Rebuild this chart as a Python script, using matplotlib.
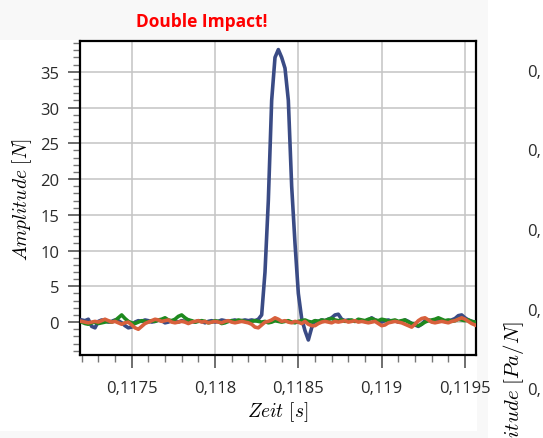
import numpy as np
import matplotlib
matplotlib.use("Agg")
import matplotlib.pyplot as plt
from matplotlib.patches import Rectangle
from matplotlib.ticker import FixedLocator, MultipleLocator

# --- Data ---
T0 = 0.11720      # first sample [s]
DT = 2e-5         # sample spacing [s]

blue = [
    0.3, 0.2, 0.4, -0.6, -0.8, 0.1, 0.3, 0.2, 0.0, 0.1,
    0.3, 0.2, -0.1, -0.5, -0.8, -0.7, 0.0, 0.2, 0.1, 0.3,
    0.2, 0.0, 0.1, 0.3, 0.2, -0.1, 0.0, 0.2, 0.1, 0.0,
    0.2, 0.1, 0.3, 0.1, 0.0, 0.2, 0.1, -0.1, 0.1, 0.2,
    0.0, 0.1, 0.3, 0.2, 0.1, 0.2, 0.3, 0.1, 0.2, 0.3,
    0.2, 0.3, 0.2, 0.4, 1.0, 7.0, 17.0, 31.0, 37.0, 38.1,
    37.0, 35.5, 31.0, 19.0, 11.0, 4.0, 0.5, -1.2, -2.5, -0.8,
    0.2, 0.1, 0.3, 0.2, 0.4, 0.6, 1.0, 1.1, 0.4, 0.2,
    0.3, 0.2, 0.1, 0.3, 0.2, 0.1, 0.3, 0.6, 0.3, 0.1,
    0.0, 0.2, 0.3, 0.1, 0.2, 0.0, 0.1, 0.3, 0.1, -0.2,
    -0.4, -0.6, -0.3, 0.2, 0.3, 0.1, 0.2, 0.4, 0.2, 0.1,
    0.2, 0.3, 0.5, 0.9, 1.0, 0.6, 0.3, 0.1, 0.0,
]
green = [
    0.0, -0.2, -0.3, -0.1, 0.0, -0.2, -0.1, 0.0, 0.1, 0.0,
    0.2, 0.6, 1.0, 0.5, 0.1, -0.1, -0.2, 0.0, 0.2, 0.1,
    0.0, 0.2, 0.1, 0.3, 0.4, 0.6, 0.3, 0.2, 0.4, 0.8,
    1.0, 0.6, 0.3, 0.2, 0.0, 0.1, 0.2, 0.1, -0.1, 0.0,
    0.2, 0.1, -0.2, -0.1, 0.1, 0.2, 0.1, 0.3, 0.2, 0.1,
    0.0, 0.1, 0.2, 0.1, 0.0, 0.1, -0.1, 0.0, 0.2, 0.1,
    0.0, 0.1, 0.2, 0.0, -0.1, 0.1, 0.2, 0.3, 0.1, 0.0,
    0.2, 0.1, 0.3, 0.2, 0.4, 0.5, 0.3, 0.2, 0.3, 0.1,
    0.2, 0.3, 0.1, 0.4, 0.3, 0.2, 0.4, 0.5, 0.3, 0.2,
    0.4, 0.3, 0.1, 0.2, 0.3, 0.1, 0.2, 0.3, 0.0, -0.2,
    -0.3, -0.5, -0.3, 0.0, 0.2, 0.3, 0.4, 0.6, 0.4, 0.2,
    0.3, 0.1, 0.2, 0.4, 0.3, 0.2, 0.3, 0.1, 0.0,
]
orange = [
    0.1, 0.0, -0.1, 0.0, 0.1, 0.0, 0.2, 0.4, 0.2, 0.0,
    0.1, -0.1, -0.3, -0.1, 0.0, -0.4, -0.8, -1.0, -0.6, -0.2,
    0.0, 0.2, 0.4, 0.3, 0.1, 0.2, 0.3, 0.0, -0.1, 0.0,
    0.1, 0.0, -0.2, 0.0, 0.1, 0.2, 0.0, 0.1, -0.1, 0.0,
    0.1, 0.0, -0.1, 0.1, 0.2, 0.0, -0.1, 0.0, 0.1, 0.0,
    -0.1, -0.3, -0.7, -0.8, -0.4, 0.0, 0.1, 0.3, 0.6, 0.4,
    0.1, 0.2, 0.0, -0.1, 0.1, 0.0, -0.2, 0.1, -0.3, -0.5,
    -0.5, -0.2, 0.0, 0.1, 0.0, -0.1, 0.1, 0.0, 0.1, 0.2,
    0.0, 0.1, 0.2, 0.0, 0.1, 0.0, -0.1, 0.0, 0.1, -0.2,
    -0.5, -0.4, -0.1, 0.0, 0.1, 0.0, -0.1, -0.3, -0.5, -0.7,
    -0.3, 0.2, 0.5, 0.6, 0.3, 0.0, -0.1, 0.0, 0.1, 0.0,
    -0.1, 0.1, 0.2, 0.4, 0.6, 0.4, 0.1, -0.2, -0.4,
]

x_ticks = [0.1175, 0.118, 0.1185, 0.119, 0.1195]
x_labels = ["0,1175", "0,118", "0,1185", "0,119", "0,1195"]
y_ticks = [0, 5, 10, 15, 20, 25, 30, 35]
right_labels = ["0,", "0,", "0,", "0,", "0,"]   # neighbour panel, cut by the frame

W, H = 543, 439
plt.rcParams['mathtext.fontset'] = 'cm'
plt.rcParams['font.family'] = ['Open Sans', 'DejaVu Sans']

fig = plt.figure(figsize=(W / 100, H / 100), dpi=100, facecolor='white')

# panel backgrounds (pixel boxes -> figure fractions)
def px_rect(x0, y0, x1, y1, color):
    r = Rectangle((x0 / W, 1 - y1 / H), (x1 - x0) / W, (y1 - y0) / H,
                  transform=fig.transFigure, facecolor=color, edgecolor='none', zorder=-2)
    fig.add_artist(r)

px_rect(0, 0, 488, H, '#f8f8f8')
px_rect(0, 41, 477, 432, 'white')

ax = fig.add_axes([80 / W, 1 - 356 / H, 396 / W, 314 / H])
t = T0 + DT * np.arange(len(blue))

ax.plot(t, blue, color='#3a4b85', lw=2.6, zorder=3)
ax.plot(t, green, color='#1e8a1e', lw=2.6, zorder=4)
ax.plot(t, orange, color='#d8603c', lw=2.6, zorder=5)

ax.set_xlim(0.11719, 0.119566)
ax.set_ylim(-4.6, 39.3)

ax.xaxis.set_major_locator(FixedLocator(x_ticks))
ax.set_xticklabels(x_labels)
ax.xaxis.set_minor_locator(MultipleLocator(0.0001))
ax.yaxis.set_major_locator(FixedLocator(y_ticks))
ax.yaxis.set_minor_locator(MultipleLocator(1))

ax.tick_params(which='major', length=9, width=1.2, color='#555555',
               labelsize=12, labelcolor='#2a2a2a', pad=6)
ax.tick_params(which='minor', length=5, width=1.0, color='#777777')
ax.tick_params(axis='x', which='major', pad=9)
ax.grid(True, which='major', color='#c4c4c4', lw=1.1)
ax.set_axisbelow(True)
for s in ax.spines.values():
    s.set_linewidth(1.6)
    s.set_color('black')

ax.set_xlabel(r'$Zeit\ [s]$', fontsize=14, labelpad=2)
ax.set_ylabel(r'$Amplitude\ [N]$', fontsize=14, labelpad=4)

fig.text(202 / W, 1 - 22 / H, 'Double Impact!', color='#ff0000', fontsize=12.5,
         fontweight='bold', ha='center', va='center')

# clipped neighbouring chart on the right
for i, lab in enumerate(right_labels):
    fig.text(527 / W, 1 - (73 + 79.5 * i) / H, lab, fontsize=12, color='#2a2a2a',
             ha='left', va='center')
fig.text(514 / W, 1 - 322 / H, r'$Amplitude\ [Pa/N]$', fontsize=15, rotation=90,
         ha='center', va='top')

fig.savefig('out.png', dpi=100, facecolor=fig.get_facecolor())
